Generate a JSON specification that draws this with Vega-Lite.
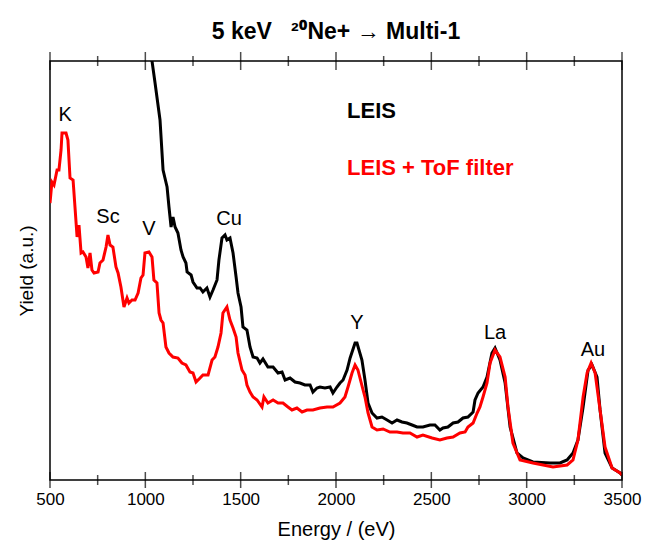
{
  "$schema": "https://vega.github.io/schema/vega-lite/v6.json",
  "width": 572,
  "height": 419,
  "autosize": "none",
  "padding": {"left": 50, "top": 61, "right": 24, "bottom": 65},
  "background": "white",
  "config": {
    "view": {"stroke": "black", "strokeWidth": 1.5},
    "font": "Liberation Sans",
    "axis": {"grid": false, "labelColor": "black", "titleColor": "black", "labelFont": "Liberation Sans", "titleFont": "Liberation Sans", "titleFontWeight": "normal", "titleFontSize": 20}
  },
  "title": {"text": "5 keV\u00a0\u00a0\u00a0²⁰Ne+ → Multi-1", "fontSize": 23, "fontWeight": "bold", "font": "Liberation Sans, Noto Sans", "anchor": "middle", "offset": 8, "color": "black"},
  "datasets": {
    "leis": [
      {"E": 1024, "Y": 425}, {"E": 1035, "Y": 419}, {"E": 1051, "Y": 397}, {"E": 1077, "Y": 360}, {"E": 1093, "Y": 310},
      {"E": 1114, "Y": 293}, {"E": 1124, "Y": 273}, {"E": 1135, "Y": 253}, {"E": 1145, "Y": 263}, {"E": 1156, "Y": 253},
      {"E": 1171, "Y": 247}, {"E": 1187, "Y": 230}, {"E": 1198, "Y": 223}, {"E": 1213, "Y": 217}, {"E": 1219, "Y": 208},
      {"E": 1240, "Y": 205}, {"E": 1250, "Y": 198}, {"E": 1271, "Y": 192}, {"E": 1287, "Y": 192}, {"E": 1302, "Y": 188},
      {"E": 1323, "Y": 192}, {"E": 1339, "Y": 183}, {"E": 1355, "Y": 190}, {"E": 1376, "Y": 200}, {"E": 1386, "Y": 220},
      {"E": 1402, "Y": 242}, {"E": 1418, "Y": 245}, {"E": 1428, "Y": 240}, {"E": 1444, "Y": 242}, {"E": 1460, "Y": 227},
      {"E": 1476, "Y": 203}, {"E": 1486, "Y": 187}, {"E": 1502, "Y": 173}, {"E": 1512, "Y": 153}, {"E": 1533, "Y": 150},
      {"E": 1549, "Y": 133}, {"E": 1565, "Y": 123}, {"E": 1586, "Y": 122}, {"E": 1601, "Y": 117}, {"E": 1617, "Y": 121},
      {"E": 1643, "Y": 113}, {"E": 1670, "Y": 113}, {"E": 1696, "Y": 107}, {"E": 1717, "Y": 108}, {"E": 1733, "Y": 100},
      {"E": 1759, "Y": 102}, {"E": 1785, "Y": 98}, {"E": 1811, "Y": 97}, {"E": 1837, "Y": 95}, {"E": 1864, "Y": 95},
      {"E": 1879, "Y": 88}, {"E": 1900, "Y": 92}, {"E": 1916, "Y": 93}, {"E": 1942, "Y": 92}, {"E": 1969, "Y": 93},
      {"E": 1984, "Y": 87}, {"E": 2005, "Y": 93}, {"E": 2021, "Y": 97}, {"E": 2037, "Y": 100}, {"E": 2058, "Y": 110},
      {"E": 2074, "Y": 122}, {"E": 2100, "Y": 137}, {"E": 2110, "Y": 137}, {"E": 2136, "Y": 120}, {"E": 2152, "Y": 100},
      {"E": 2168, "Y": 77}, {"E": 2189, "Y": 67}, {"E": 2215, "Y": 62}, {"E": 2241, "Y": 63}, {"E": 2268, "Y": 60},
      {"E": 2294, "Y": 57}, {"E": 2320, "Y": 60}, {"E": 2346, "Y": 58}, {"E": 2372, "Y": 57}, {"E": 2399, "Y": 55},
      {"E": 2425, "Y": 53}, {"E": 2456, "Y": 53}, {"E": 2493, "Y": 55}, {"E": 2519, "Y": 55}, {"E": 2545, "Y": 50},
      {"E": 2561, "Y": 52}, {"E": 2587, "Y": 53}, {"E": 2614, "Y": 57}, {"E": 2640, "Y": 58}, {"E": 2666, "Y": 62},
      {"E": 2692, "Y": 63}, {"E": 2719, "Y": 68}, {"E": 2729, "Y": 80}, {"E": 2745, "Y": 87}, {"E": 2771, "Y": 93},
      {"E": 2792, "Y": 103}, {"E": 2818, "Y": 127}, {"E": 2834, "Y": 132}, {"E": 2860, "Y": 120}, {"E": 2887, "Y": 97},
      {"E": 2913, "Y": 53}, {"E": 2949, "Y": 27}, {"E": 2981, "Y": 22}, {"E": 3033, "Y": 18}, {"E": 3123, "Y": 17},
      {"E": 3175, "Y": 17}, {"E": 3212, "Y": 20}, {"E": 3243, "Y": 27}, {"E": 3269, "Y": 40}, {"E": 3296, "Y": 73},
      {"E": 3322, "Y": 110}, {"E": 3343, "Y": 115}, {"E": 3369, "Y": 103}, {"E": 3385, "Y": 70}, {"E": 3411, "Y": 27},
      {"E": 3448, "Y": 12}, {"E": 3490, "Y": 7}, {"E": 3500, "Y": 5}
    ],
    "tof": [
      {"E": 500, "Y": 277}, {"E": 510, "Y": 298}, {"E": 521, "Y": 295}, {"E": 537, "Y": 310}, {"E": 547, "Y": 310},
      {"E": 558, "Y": 330}, {"E": 563, "Y": 347}, {"E": 584, "Y": 347}, {"E": 594, "Y": 340}, {"E": 605, "Y": 302},
      {"E": 621, "Y": 300}, {"E": 631, "Y": 273}, {"E": 642, "Y": 243}, {"E": 652, "Y": 255}, {"E": 663, "Y": 227},
      {"E": 673, "Y": 228}, {"E": 689, "Y": 223}, {"E": 699, "Y": 212}, {"E": 710, "Y": 227}, {"E": 720, "Y": 210},
      {"E": 731, "Y": 207}, {"E": 752, "Y": 208}, {"E": 762, "Y": 217}, {"E": 778, "Y": 220}, {"E": 794, "Y": 233},
      {"E": 804, "Y": 245}, {"E": 815, "Y": 235}, {"E": 830, "Y": 233}, {"E": 846, "Y": 213}, {"E": 857, "Y": 207},
      {"E": 872, "Y": 193}, {"E": 888, "Y": 173}, {"E": 904, "Y": 182}, {"E": 914, "Y": 177}, {"E": 930, "Y": 180},
      {"E": 946, "Y": 180}, {"E": 962, "Y": 187}, {"E": 977, "Y": 202}, {"E": 988, "Y": 205}, {"E": 998, "Y": 227},
      {"E": 1019, "Y": 228}, {"E": 1035, "Y": 223}, {"E": 1045, "Y": 200}, {"E": 1061, "Y": 197}, {"E": 1072, "Y": 167},
      {"E": 1082, "Y": 160}, {"E": 1093, "Y": 157}, {"E": 1108, "Y": 133}, {"E": 1124, "Y": 127}, {"E": 1145, "Y": 123},
      {"E": 1171, "Y": 122}, {"E": 1192, "Y": 117}, {"E": 1213, "Y": 115}, {"E": 1234, "Y": 108}, {"E": 1250, "Y": 107},
      {"E": 1266, "Y": 98}, {"E": 1287, "Y": 102}, {"E": 1302, "Y": 105}, {"E": 1329, "Y": 105}, {"E": 1350, "Y": 120},
      {"E": 1365, "Y": 123}, {"E": 1381, "Y": 133}, {"E": 1397, "Y": 147}, {"E": 1407, "Y": 167}, {"E": 1428, "Y": 173},
      {"E": 1444, "Y": 160}, {"E": 1460, "Y": 152}, {"E": 1476, "Y": 143}, {"E": 1486, "Y": 127}, {"E": 1507, "Y": 110},
      {"E": 1523, "Y": 105}, {"E": 1533, "Y": 95}, {"E": 1549, "Y": 88}, {"E": 1565, "Y": 83}, {"E": 1586, "Y": 80},
      {"E": 1612, "Y": 73}, {"E": 1622, "Y": 83}, {"E": 1643, "Y": 77}, {"E": 1670, "Y": 80}, {"E": 1696, "Y": 77},
      {"E": 1722, "Y": 77}, {"E": 1748, "Y": 73}, {"E": 1769, "Y": 70}, {"E": 1795, "Y": 72}, {"E": 1822, "Y": 68},
      {"E": 1848, "Y": 70}, {"E": 1879, "Y": 70}, {"E": 1916, "Y": 72}, {"E": 1953, "Y": 73}, {"E": 1984, "Y": 73},
      {"E": 2021, "Y": 77}, {"E": 2047, "Y": 83}, {"E": 2063, "Y": 93}, {"E": 2084, "Y": 107}, {"E": 2100, "Y": 115},
      {"E": 2115, "Y": 110}, {"E": 2142, "Y": 90}, {"E": 2152, "Y": 83}, {"E": 2168, "Y": 67}, {"E": 2189, "Y": 53},
      {"E": 2215, "Y": 50}, {"E": 2247, "Y": 51}, {"E": 2283, "Y": 48}, {"E": 2320, "Y": 48}, {"E": 2351, "Y": 47},
      {"E": 2388, "Y": 47}, {"E": 2425, "Y": 43}, {"E": 2456, "Y": 45}, {"E": 2504, "Y": 42}, {"E": 2545, "Y": 40},
      {"E": 2582, "Y": 42}, {"E": 2614, "Y": 43}, {"E": 2650, "Y": 47}, {"E": 2677, "Y": 48}, {"E": 2692, "Y": 53},
      {"E": 2719, "Y": 57}, {"E": 2740, "Y": 67}, {"E": 2755, "Y": 73}, {"E": 2771, "Y": 83}, {"E": 2792, "Y": 97},
      {"E": 2808, "Y": 117}, {"E": 2834, "Y": 130}, {"E": 2860, "Y": 123}, {"E": 2887, "Y": 103}, {"E": 2902, "Y": 73},
      {"E": 2928, "Y": 37}, {"E": 2965, "Y": 20}, {"E": 3033, "Y": 17}, {"E": 3138, "Y": 13}, {"E": 3212, "Y": 15},
      {"E": 3243, "Y": 20}, {"E": 3269, "Y": 40}, {"E": 3296, "Y": 83}, {"E": 3317, "Y": 107}, {"E": 3338, "Y": 117},
      {"E": 3359, "Y": 107}, {"E": 3385, "Y": 70}, {"E": 3411, "Y": 33}, {"E": 3448, "Y": 12}, {"E": 3490, "Y": 7},
      {"E": 3500, "Y": 5}
    ],
    "peaks": [
      {"E": 579, "Y": 365, "label": "K"},
      {"E": 804, "Y": 263, "label": "Sc"},
      {"E": 1019, "Y": 251, "label": "V"},
      {"E": 1439, "Y": 261, "label": "Cu"},
      {"E": 2110, "Y": 157, "label": "Y"},
      {"E": 2834, "Y": 147, "label": "La"},
      {"E": 3348, "Y": 130, "label": "Au"}
    ],
    "legend": [
      {"E": 2058, "Y": 362, "label": "LEIS", "series": "LEIS"},
      {"E": 2058, "Y": 305, "label": "LEIS + ToF filter", "series": "ToF"}
    ],
    "major": [{"E": 500}, {"E": 1000}, {"E": 1500}, {"E": 2000}, {"E": 2500}, {"E": 3000}, {"E": 3500}],
    "minor": [{"E": 750}, {"E": 1250}, {"E": 1750}, {"E": 2250}, {"E": 2750}, {"E": 3250}]
  },
  "layer": [
    {
      "data": {"name": "leis"},
      "mark": {"type": "line", "color": "black", "strokeWidth": 3, "clip": true},
      "encoding": {
        "x": {"field": "E", "type": "quantitative", "scale": {"domain": [500, 3500], "nice": false, "zero": false},
              "axis": {"orient": "bottom", "values": [500, 1000, 1500, 2000, 2500, 3000, 3500], "format": "d", "domain": false, "ticks": false, "labelFontSize": 17, "labelPadding": 11, "title": "Energy / (eV)", "titleFontSize": 20, "titlePadding": 12, "labelFlush": false}},
        "y": {"field": "Y", "type": "quantitative", "scale": {"domain": [0, 419], "nice": false, "zero": false},
              "axis": {"title": "Yield (a.u.)", "titleFontSize": 19, "labels": false, "ticks": false, "domain": false, "titlePadding": 14}}
      }
    },
    {
      "data": {"name": "tof"},
      "mark": {"type": "line", "color": "#ff0000", "strokeWidth": 3, "clip": true},
      "encoding": {
        "x": {"field": "E", "type": "quantitative"},
        "y": {"field": "Y", "type": "quantitative"}
      }
    },
    {
      "data": {"name": "peaks"},
      "mark": {"type": "text", "fontSize": 20, "font": "Liberation Sans", "baseline": "middle", "align": "center", "color": "black"},
      "encoding": {
        "x": {"field": "E", "type": "quantitative"},
        "y": {"field": "Y", "type": "quantitative"},
        "text": {"field": "label"}
      }
    },
    {
      "data": {"name": "legend"},
      "mark": {"type": "text", "fontSize": 22, "fontWeight": "bold", "font": "Liberation Sans", "baseline": "alphabetic", "align": "left"},
      "encoding": {
        "x": {"field": "E", "type": "quantitative"},
        "y": {"field": "Y", "type": "quantitative"},
        "text": {"field": "label"},
        "color": {"field": "series", "type": "nominal", "scale": {"domain": ["LEIS", "ToF"], "range": ["black", "#ff0000"]}, "legend": null}
      }
    },
    {
      "data": {"name": "major"},
      "mark": {"type": "tick", "color": "black", "thickness": 1.5, "size": 16, "orient": "vertical"},
      "encoding": {
        "x": {"field": "E", "type": "quantitative"},
        "y": {"datum": 0}
      }
    },
    {
      "data": {"name": "major"},
      "mark": {"type": "tick", "color": "black", "thickness": 1.5, "size": 18, "orient": "vertical"},
      "encoding": {
        "x": {"field": "E", "type": "quantitative"},
        "y": {"datum": 419}
      }
    },
    {
      "data": {"name": "minor"},
      "mark": {"type": "tick", "color": "black", "thickness": 1.5, "size": 10, "orient": "vertical"},
      "encoding": {
        "x": {"field": "E", "type": "quantitative"},
        "y": {"datum": 0}
      }
    },
    {
      "data": {"name": "minor"},
      "mark": {"type": "tick", "color": "black", "thickness": 1.5, "size": 10, "orient": "vertical"},
      "encoding": {
        "x": {"field": "E", "type": "quantitative"},
        "y": {"datum": 419}
      }
    }
  ]
}
